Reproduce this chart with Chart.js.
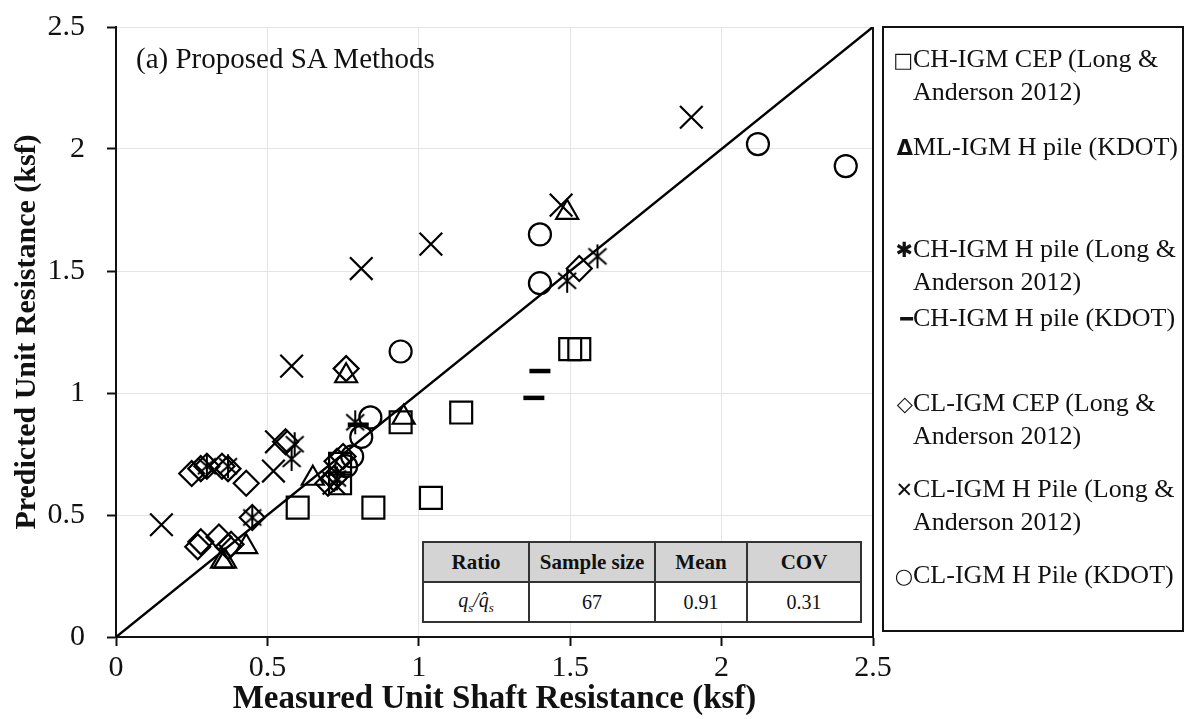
<!DOCTYPE html>
<html>
<head>
<meta charset="utf-8">
<script src="https://cdn.jsdelivr.net/npm/chart.js@4.4.1/dist/chart.umd.min.js"></script>
<style>
  html, body { margin: 0; padding: 0; background: #fff; }
  #wrap { position: relative; width: 1187px; height: 719px; overflow: hidden; font-family: "Liberation Serif", "Times New Roman", serif; }
  #c { position: absolute; left: 0; top: 0; }
  #title { position: absolute; left: 136px; top: 42px; font-size: 29px; color: #111; white-space: nowrap; }
  #legend { position: absolute; left: 882px; top: 26px; width: 302px; height: 606px; border: 2px solid #111; box-sizing: border-box; }
  .li { position: absolute; left: 9px; font-size: 26px; line-height: 31px; color: #111; white-space: nowrap; }
  .li .g { display: inline-block; width: 20px; text-align: right; font-family: "DejaVu Sans", sans-serif; font-size: 21px; font-weight: bold; }
  .li .ind { padding-left: 20px; }
  #tbl { position: absolute; left: 422px; top: 541px; width: 440px; height: 80px; border-collapse: collapse; background: #fff; font-size: 20px; color: #111; }
  #tbl td, #tbl th { border: 2px solid #333; text-align: center; padding: 0; height: 38px; }
  #tbl th { background: #d4d4d4; font-weight: bold; font-size: 21px; }
</style>
</head>
<body>
<div id="wrap">
  <canvas id="c" width="1187" height="719"></canvas>
  <div id="title">(a) Proposed SA Methods</div>
  <div id="legend"></div>
  <table id="tbl">
    <tr><th style="width:104px">Ratio</th><th style="width:124px">Sample size</th><th style="width:90px">Mean</th><th>COV</th></tr>
    <tr><td><i>q<sub style="font-size:13px">s</sub>/q&#770;<sub style="font-size:13px">s</sub></i></td><td>67</td><td>0.91</td><td>0.31</td></tr>
  </table>
</div>
<script>
// ---- Data ----
const xTickLabels = ['0', '0.5', '1', '1.5', '2', '2.5'];
const yTickLabels = ['0', '0.5', '1', '1.5', '2', '2.5'];

const seriesNames = [
  'CH-IGM CEP (Long & Anderson 2012)',
  'ML-IGM H pile (KDOT)',
  'CH-IGM H pile (Long & Anderson 2012)',
  'CH-IGM H pile (KDOT)',
  'CL-IGM CEP (Long & Anderson 2012)',
  'CL-IGM H Pile (Long & Anderson 2012)',
  'CL-IGM H Pile (KDOT)'
];

const chCepX = [0.60, 0.74, 0.74, 0.85, 0.94, 1.04, 1.14, 1.50, 1.53];
const chCepY = [0.53, 0.71, 0.63, 0.53, 0.88, 0.57, 0.92, 1.18, 1.18];

const mlKdotX = [0.35, 0.36, 0.43, 0.65, 0.76, 0.95, 1.49];
const mlKdotY = [0.31, 0.31, 0.37, 0.65, 1.07, 0.90, 1.74];

const chHLaX = [0.30, 0.37, 0.45, 0.58, 0.59, 0.79, 1.49, 1.59, 0.73];
const chHLaY = [0.70, 0.70, 0.49, 0.73, 0.79, 0.88, 1.46, 1.56, 0.65];

const chHKdotX = [0.80, 1.38, 1.40];
const chHKdotY = [0.87, 0.98, 1.09];

const clCepX = [0.25, 0.28, 0.30, 0.35, 0.37, 0.43, 0.56, 0.27, 0.28, 0.34, 0.37, 0.38, 0.45, 0.70, 0.73, 0.75, 0.76, 1.53, 0.72];
const clCepY = [0.67, 0.69, 0.70, 0.70, 0.69, 0.63, 0.80, 0.37, 0.39, 0.41, 0.37, 0.38, 0.49, 0.63, 0.72, 0.74, 1.10, 1.51, 0.65];

const clHLaX = [0.15, 0.52, 0.53, 0.58, 0.72, 0.81, 1.04, 1.47, 1.90];
const clHLaY = [0.46, 0.68, 0.80, 1.11, 0.63, 1.51, 1.61, 1.77, 2.13];

const clHKdotX = [0.76, 0.78, 0.81, 0.84, 0.94, 1.40, 1.40, 2.12, 2.41];
const clHKdotY = [0.70, 0.74, 0.82, 0.90, 1.17, 1.45, 1.65, 2.02, 1.93];

const oneToOneX = [0, 2.5];
const oneToOneY = [0, 2.5];

// ---- helpers ----
function pts(xs, ys) { return xs.map((x, i) => ({ x: x, y: ys[i] })); }

// asterisk marker (X with vertical bar)
const star = document.createElement('canvas');
star.width = 26; star.height = 26;
(function () {
  const g = star.getContext('2d');
  g.strokeStyle = '#000'; g.lineWidth = 2; g.lineCap = 'butt';
  g.beginPath();
  g.moveTo(4, 5); g.lineTo(22, 21);
  g.moveTo(22, 5); g.lineTo(4, 21);
  g.moveTo(13, 1); g.lineTo(13, 25);
  g.stroke();
})();

function ds(label, xs, ys, style, radius, bw) {
  return {
    label: label, data: pts(xs, ys), showLine: false,
    pointStyle: style, pointRadius: radius, pointHoverRadius: radius,
    pointBorderColor: '#000', pointBackgroundColor: 'rgba(0,0,0,0)',
    pointBorderWidth: bw || 2.2, borderColor: '#000', backgroundColor: 'rgba(0,0,0,0)'
  };
}

const datasets = [
  { label: '1:1', data: pts(oneToOneX, oneToOneY), showLine: true, pointRadius: 0, borderColor: '#000', borderWidth: 2.5, fill: false },
  ds(seriesNames[0], chCepX, chCepY, 'rect', 15.5),
  ds(seriesNames[1], mlKdotX, mlKdotY, 'triangle', 12.7),
  ds(seriesNames[2], chHLaX, chHLaY, star, 13),
  ds(seriesNames[3], chHKdotX, chHKdotY, 'line', 10.5, 4.5),
  ds(seriesNames[4], clCepX, clCepY, 'rectRot', 12.5),
  ds(seriesNames[5], clHLaX, clHLaY, 'crossRot', 16),
  ds(seriesNames[6], clHKdotX, clHKdotY, 'circle', 11)
];

const serif = '"Liberation Serif", "Times New Roman", serif';

const frame = {
  id: 'frame',
  afterDraw(chart) {
    const a = chart.chartArea, ctx = chart.ctx;
    ctx.save();
    ctx.strokeStyle = '#111'; ctx.lineWidth = 2;
    ctx.beginPath();
    ctx.moveTo(a.right, a.top); ctx.lineTo(a.right, a.bottom);
    ctx.stroke();
    ctx.restore();
  }
};

new Chart(document.getElementById('c'), {
  type: 'scatter',
  data: { datasets: datasets },
  plugins: [frame],
  options: {
    responsive: false, animation: false, devicePixelRatio: 1,
    layout: { padding: { left: 0, top: 27, right: 314, bottom: 0 } },
    plugins: { legend: { display: false }, tooltip: { enabled: false } },
    scales: {
      x: {
        type: 'linear', min: 0, max: 2.5,
        afterFit(s) { s.height = 82; s.paddingLeft = 0; s.paddingRight = 0; },
        ticks: { stepSize: 0.5, color: '#111', font: { family: serif, size: 30 }, padding: 4,
                 callback: (v, i) => xTickLabels[i] },
        grid: { color: '#e4e4e4', lineWidth: 1, tickColor: '#111', tickLength: 9, tickWidth: 2 },
        border: { color: '#111', width: 2 },
        title: { display: true, text: 'Measured Unit Shaft Resistance (ksf)', color: '#111',
                 font: { family: serif, size: 33, weight: 'bold' }, padding: { top: 0, bottom: 0 } }
      },
      y: {
        type: 'linear', min: 0, max: 2.5,
        afterFit(s) { s.width = 116; s.paddingTop = 0; s.paddingBottom = 0; },
        ticks: { stepSize: 0.5, color: '#111', font: { family: serif, size: 30 }, padding: 22,
                 callback: (v, i) => yTickLabels[i] },
        grid: { color: '#e4e4e4', lineWidth: 1, tickColor: '#111', tickLength: 9, tickWidth: 2 },
        border: { color: '#111', width: 2 },
        title: { display: true, text: 'Predicted Unit Resistance (ksf)', color: '#111',
                 font: { family: serif, size: 30, weight: 'bold' }, padding: { top: 9, bottom: 0 } }
      }
    }
  }
});

// ---- HTML legend (text glyphs as in the reference) ----
const legendItems = [
  { g: '\u25A1', lines: ['CH-IGM CEP (Long &', 'Anderson 2012)'], top: 15 },
  { g: '\u0394', lines: ['ML-IGM H pile (KDOT)'], top: 103 },
  { g: '\u2731', lines: ['CH-IGM H pile (Long &', 'Anderson 2012)'], top: 205 },
  { g: '\u2501', lines: ['CH-IGM H pile (KDOT)'], top: 274 },
  { g: '\u25C7', lines: ['CL-IGM CEP (Long &', 'Anderson 2012)'], top: 359 },
  { g: '\u2715', lines: ['CL-IGM H Pile (Long &', 'Anderson 2012)'], top: 445 },
  { g: '\u25CB', lines: ['CL-IGM H Pile (KDOT)'], top: 531 }
];
const leg = document.getElementById('legend');
legendItems.forEach(it => {
  const d = document.createElement('div');
  d.className = 'li';
  d.style.top = it.top + 'px';
  let html = '<span class="g">' + it.g + '</span>' + it.lines[0].replace('&', '&amp;');
  for (let k = 1; k < it.lines.length; k++) html += '<br><span class="ind">' + it.lines[k] + '</span>';
  d.innerHTML = html;
  leg.appendChild(d);
});
</script>
</body>
</html>
